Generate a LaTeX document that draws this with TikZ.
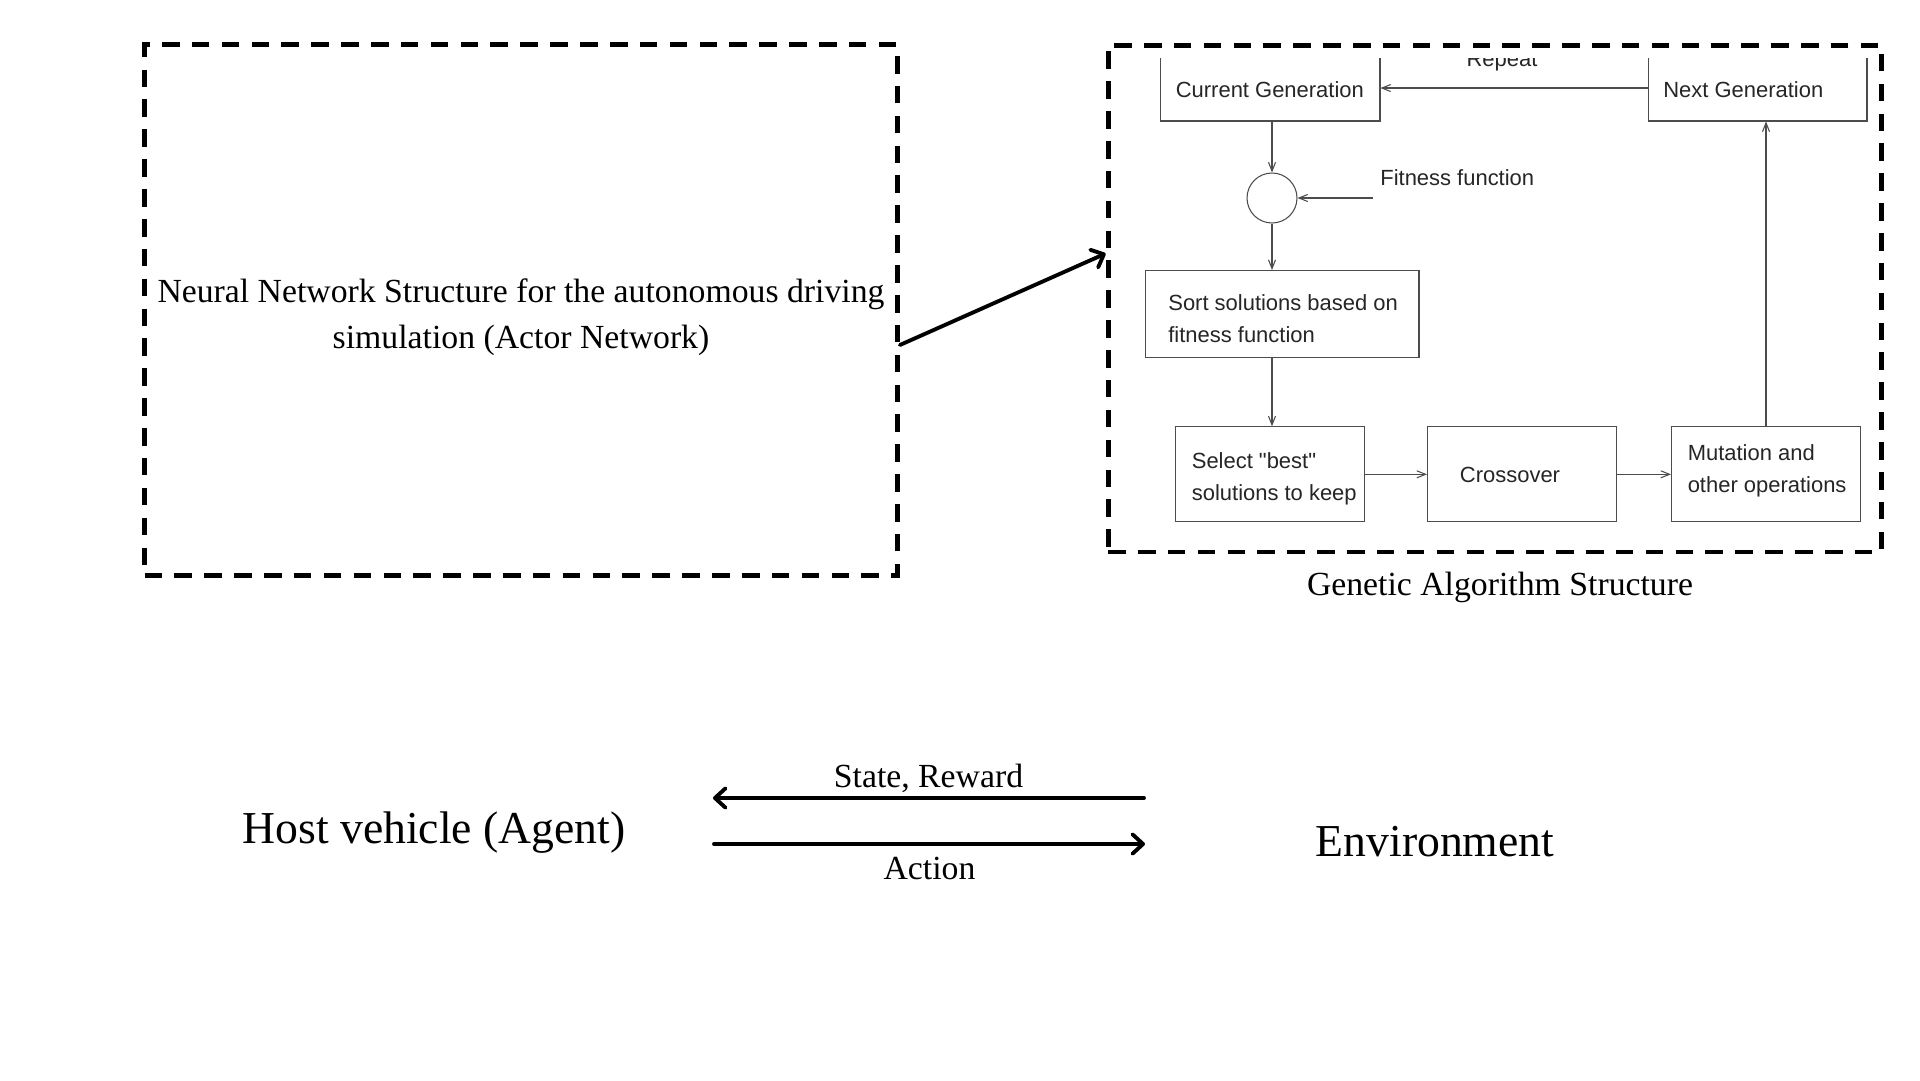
\documentclass[tikz,border=0pt]{standalone}
\usepackage{fontspec}
\setmainfont{Liberation Serif}
\newfontfamily\gasans{Liberation Sans}
\usetikzlibrary{arrows.meta, positioning}

\begin{document}
\begin{tikzpicture}[
  x=0.02cm, y=-0.02cm,
  frame/.style={draw, line width=2.8pt, dash pattern=on 10pt off 7pt, inner sep=0pt},
  txt/.style={font=\fontsize{19.2}{26.4}\selectfont, align=center},
  big/.style={font=\fontsize{26}{31}\selectfont},
  gabox/.style={draw=black!70, line width=0.6pt},
  gatext/.style={anchor=west, align=left, text=black!85, inner sep=0pt, font=\gasans\fontsize{12.5}{18}\selectfont},
  gaarrow/.style={-{Straight Barb[length=5pt, width=4pt]}, draw=black!70, line width=0.6pt},
  arrow/.style={-{Straight Barb[length=6pt, width=11pt, round]}, line width=2.2pt, line cap=round}
]
\path[fill=white, use as bounding box] (0,0) rectangle (1920,1080);

% Top row: the two dashed frames
\node[frame, minimum width=15.06cm, minimum height=10.61cm] (NN) at (521,310) {};
\node[txt] (NNtext) at ([yshift=-0.14cm]NN.center)
  {Neural Network Structure for the autonomous driving\\simulation (Actor Network)};
\node[frame, minimum width=15.48cm, minimum height=10.14cm] (GA) at (1495,298.5) {};
\node[txt, below=0.22cm of GA, xshift=0.1cm] (GAlabel) {Genetic Algorithm Structure};

\draw[arrow] ([yshift=-0.7cm]NN.east) -- ([yshift=0.9cm]GA.west);

% GA loop (picture cut at the top)
\begin{scope}
\clip (1110,58) rectangle (1880,550);
\node[gabox, minimum width=4.4cm, minimum height=1.32cm] (CurGen) at (1270,88) {};
\node[gabox, minimum width=4.38cm, minimum height=1.32cm] (NextGen) at (1757.5,88) {};
\node[gatext, anchor=base] (Repeat) at (1502,66.7) {Repeat};
\end{scope}
\node[gatext] (CurGenText) at (1175.5,89.4) {Current Generation};
\node[gatext] (NextGenText) at (1663,89.4) {Next Generation};

\node[draw=black!70, line width=0.6pt, circle, minimum size=1cm, inner sep=0pt] (Fit) at (1272,198) {};
\node[gatext] (FitLabel) at (1380,177.5) {Fitness function};
\coordinate (FitIn) at (1373,198);

\node[gabox, minimum width=5.48cm, minimum height=1.74cm] (Sort) at (1282,314) {};
\node[gatext] (SortText) at (1168,318.4) {Sort solutions based on\\fitness function};

\node[gabox, minimum width=3.78cm, minimum height=1.9cm] (Select) at (1270,474.3) {};
\node[gabox, minimum width=3.78cm, minimum height=1.9cm] (Cross) at (1522,474.3) {};
\node[gabox, minimum width=3.78cm, minimum height=1.9cm] (Mut) at (1766,474.3) {};
\node[gatext] (SelectText) at (1191.5,479) {Select "best"\\solutions to keep};
\node[gatext] (CrossText) at (1459.6,475) {Crossover};
\node[gatext] (MutText) at (1687.4,470.5) {Mutation and\\other operations};

\draw[gaarrow] (NextGen.west) -- (CurGen.east);
\draw[gaarrow] (CurGen.south -| Fit) -- (Fit.north);
\draw[gaarrow] (FitIn) -- (Fit.east);
\draw[gaarrow] (Fit.south) -- (Fit |- Sort.north);
\draw[gaarrow] (Sort.south -| Fit) -- (Fit |- Select.north);
\draw[gaarrow] (Select) -- (Cross);
\draw[gaarrow] (Cross) -- (Mut);
\draw[gaarrow] (Mut.north) -- (Mut.north |- NextGen.south);

% Bottom row: agent and environment
\node[big] (Host) at (434,832.5) {Host vehicle (Agent)};
\node[big] (Env) at (1435,841.5) {Environment};

\coordinate (SRfrom) at (1144,798);
\coordinate (SRto) at (713,798);
\coordinate (ACfrom) at (714,844);
\coordinate (ACto) at (1145,844);

\draw[arrow] (SRfrom) -- node[txt, above, inner sep=2pt] {State, Reward} (SRto);
\draw[arrow] (ACfrom) -- node[txt, below=0.1cm] {Action} (ACto);

\end{tikzpicture}
\end{document}
